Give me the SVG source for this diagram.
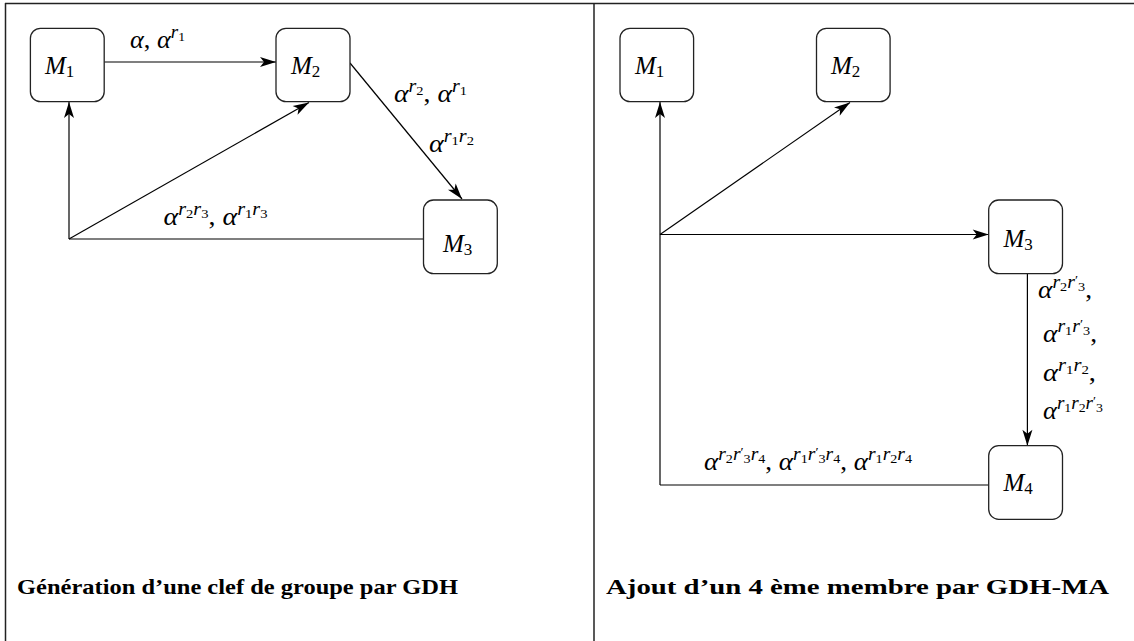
<svg xmlns="http://www.w3.org/2000/svg" width="1134" height="641" viewBox="0 0 1134 641">
<style>
.frame{stroke:#222;stroke-width:1.5;fill:none}
.box{fill:#fff;stroke:#222;stroke-width:1.3}
.c{stroke:#000;stroke-width:1.2;fill:none}
.ca{stroke:#000;stroke-width:1.2;fill:none;marker-end:url(#ah)}
.m{font-family:"Liberation Serif","DejaVu Serif",serif;font-style:italic;font-size:25px;fill:#000}
.sub{font-size:17px;font-style:normal}
.s{font-size:18px}
.ss{font-size:13px;font-style:normal}
.n{font-style:normal}
.t{font-family:"Liberation Serif","DejaVu Serif",serif;font-weight:bold;font-size:22px;fill:#000}
</style>
<defs>
<marker id="ah" viewBox="-17 -6 18 12" markerWidth="18" markerHeight="12" refX="0" refY="0" orient="auto" markerUnits="userSpaceOnUse">
<path d="M0,0 L-16,-5 L-12,0 L-16,5 Z" fill="#000"/>
</marker>
</defs>
<g id="frame">
<line class="frame" x1="5" y1="3.5" x2="1134" y2="3.5"/>
<line class="frame" x1="5.5" y1="3" x2="5.5" y2="641"/>
<line class="frame" x1="594" y1="3" x2="594" y2="641"/>
</g>
<g id="connectors">
<line class="ca" x1="104.2" y1="62" x2="276" y2="62"/>
<line class="ca" x1="350" y1="63" x2="462" y2="199"/>
<line class="ca" x1="69" y1="239" x2="69" y2="102"/>
<line class="ca" x1="69" y1="239" x2="309" y2="102.5"/>
<line class="c" x1="423.5" y1="239" x2="69" y2="239"/>
<line class="ca" x1="660" y1="485" x2="660" y2="102"/>
<line class="ca" x1="660" y1="234.5" x2="850" y2="102.5"/>
<line class="ca" x1="660" y1="234.5" x2="988.7" y2="234.5"/>
<line class="ca" x1="1027.4" y1="274" x2="1027.4" y2="445.7"/>
<line class="c" x1="988.7" y1="485" x2="660" y2="485"/>
</g>
<g id="left-M1"><rect class="box" x="30.4" y="28.3" width="73.8" height="73.4" rx="10"/><text class="m" x="45" y="74">M<tspan class="sub" dy="3">1</tspan></text></g>
<g id="left-M2"><rect class="box" x="276" y="28.3" width="74" height="73.4" rx="10"/><text class="m" x="291" y="74">M<tspan class="sub" dy="3">2</tspan></text></g>
<g id="left-M3"><rect class="box" x="423.5" y="200" width="73.8" height="73.6" rx="10"/><text class="m" x="443" y="252">M<tspan class="sub" dy="3">3</tspan></text></g>
<g id="right-M1"><rect class="box" x="620" y="28.3" width="73.6" height="73.4" rx="10"/><text class="m" x="635" y="74">M<tspan class="sub" dy="3">1</tspan></text></g>
<g id="right-M2"><rect class="box" x="816.5" y="28.3" width="73.6" height="73.4" rx="10"/><text class="m" x="831" y="74">M<tspan class="sub" dy="3">2</tspan></text></g>
<g id="right-M3"><rect class="box" x="988.7" y="200" width="73.8" height="73.6" rx="10"/><text class="m" x="1003.5" y="246.5">M<tspan class="sub" dy="3">3</tspan></text></g>
<g id="right-M4"><rect class="box" x="988.7" y="445.7" width="73.8" height="73.6" rx="10"/><text class="m" x="1003.5" y="491">M<tspan class="sub" dy="3">4</tspan></text></g>
<g id="labels">
<text class="m" x="130" y="48" textLength="55" lengthAdjust="spacingAndGlyphs">α<tspan class="n">, </tspan>α<tspan class="s" dy="-10">r</tspan><tspan class="ss" dy="3">1</tspan></text>
<text class="m" x="394" y="101.7" textLength="73" lengthAdjust="spacingAndGlyphs">α<tspan class="s" dy="-10">r</tspan><tspan class="ss" dy="3">2</tspan><tspan class="n" dy="7">, </tspan>α<tspan class="s" dy="-10">r</tspan><tspan class="ss" dy="3">1</tspan></text>
<text class="m" x="429" y="151.7" textLength="45" lengthAdjust="spacingAndGlyphs">α<tspan class="s" dy="-10">r</tspan><tspan class="ss" dy="3">1</tspan><tspan class="s" dy="-3">r</tspan><tspan class="ss" dy="3">2</tspan></text>
<text class="m" x="163.5" y="225" textLength="104" lengthAdjust="spacingAndGlyphs">α<tspan class="s" dy="-10">r</tspan><tspan class="ss" dy="3">2</tspan><tspan class="s" dy="-3">r</tspan><tspan class="ss" dy="3">3</tspan><tspan class="n" dy="7">, </tspan>α<tspan class="s" dy="-10">r</tspan><tspan class="ss" dy="3">1</tspan><tspan class="s" dy="-3">r</tspan><tspan class="ss" dy="3">3</tspan></text>
<text class="m" x="1038" y="298" textLength="54" lengthAdjust="spacingAndGlyphs">α<tspan class="s" dy="-10">r</tspan><tspan class="ss" dy="3">2</tspan><tspan class="s" dy="-3">r</tspan><tspan class="ss" dy="-4">′</tspan><tspan class="ss" dy="7">3</tspan><tspan class="n" dy="7">,</tspan></text>
<text class="m" x="1043" y="342" textLength="54" lengthAdjust="spacingAndGlyphs">α<tspan class="s" dy="-10">r</tspan><tspan class="ss" dy="3">1</tspan><tspan class="s" dy="-3">r</tspan><tspan class="ss" dy="-4">′</tspan><tspan class="ss" dy="7">3</tspan><tspan class="n" dy="7">,</tspan></text>
<text class="m" x="1043" y="381" textLength="53" lengthAdjust="spacingAndGlyphs">α<tspan class="s" dy="-10">r</tspan><tspan class="ss" dy="3">1</tspan><tspan class="s" dy="-3">r</tspan><tspan class="ss" dy="3">2</tspan><tspan class="n" dy="7">,</tspan></text>
<text class="m" x="1043" y="419" textLength="60" lengthAdjust="spacingAndGlyphs">α<tspan class="s" dy="-10">r</tspan><tspan class="ss" dy="3">1</tspan><tspan class="s" dy="-3">r</tspan><tspan class="ss" dy="3">2</tspan><tspan class="s" dy="-3">r</tspan><tspan class="ss" dy="-4">′</tspan><tspan class="ss" dy="7">3</tspan></text>
<text class="m" x="704" y="470" textLength="208" lengthAdjust="spacingAndGlyphs">α<tspan class="s" dy="-10">r</tspan><tspan class="ss" dy="3">2</tspan><tspan class="s" dy="-3">r</tspan><tspan class="ss" dy="-4">′</tspan><tspan class="ss" dy="7">3</tspan><tspan class="s" dy="-3">r</tspan><tspan class="ss" dy="3">4</tspan><tspan class="n" dy="7">, </tspan>α<tspan class="s" dy="-10">r</tspan><tspan class="ss" dy="3">1</tspan><tspan class="s" dy="-3">r</tspan><tspan class="ss" dy="-4">′</tspan><tspan class="ss" dy="7">3</tspan><tspan class="s" dy="-3">r</tspan><tspan class="ss" dy="3">4</tspan><tspan class="n" dy="7">, </tspan>α<tspan class="s" dy="-10">r</tspan><tspan class="ss" dy="3">1</tspan><tspan class="s" dy="-3">r</tspan><tspan class="ss" dy="3">2</tspan><tspan class="s" dy="-3">r</tspan><tspan class="ss" dy="3">4</tspan></text>
</g>
<g id="titles">
<text class="t" x="17" y="594" textLength="441" lengthAdjust="spacingAndGlyphs">Génération d’une clef de groupe par GDH</text>
<text class="t" x="606" y="594" textLength="503" lengthAdjust="spacingAndGlyphs">Ajout d’un 4 ème membre par GDH-MA</text>
</g>
</svg>
